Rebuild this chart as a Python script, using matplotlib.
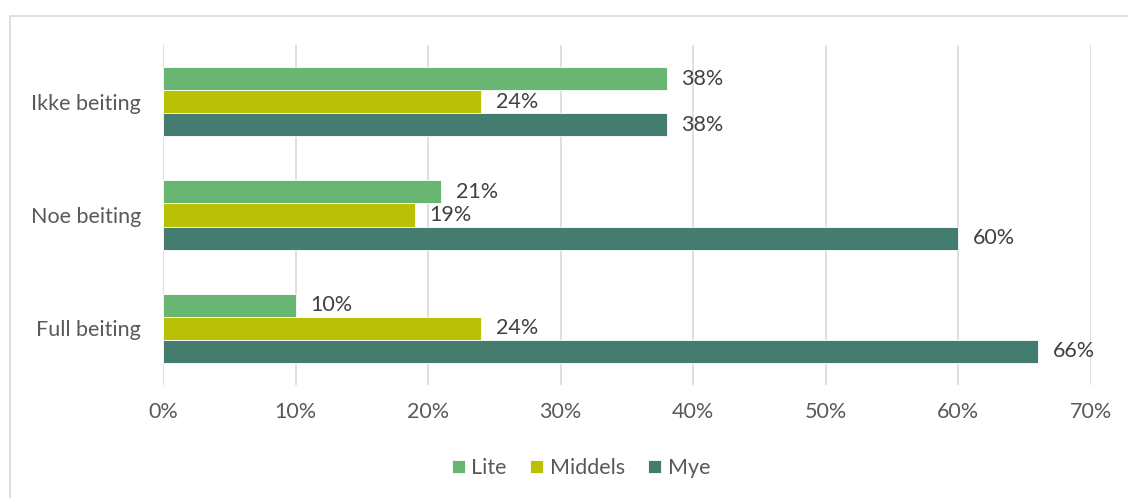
import matplotlib.pyplot as plt
import numpy as np
from matplotlib.patches import Rectangle

# data
categories = ["Full beiting", "Noe beiting", "Ikke beiting"]
series = ["Lite", "Middels", "Mye"]
lite = [10, 21, 38]
middels = [24, 19, 24]
mye = [66, 60, 38]
colors = ["#68B672", "#B8C106", "#447C70"]

plt.rcParams['font.family'] = ['Lato', 'DejaVu Sans']
txt = "#595959"

fig = plt.figure(figsize=(11.28, 4.98), dpi=100)
fig.patches.append(Rectangle((10 / 1128, -0.01), 1.02, 1 - 16 / 498 + 0.01,
                             transform=fig.transFigure, fill=False,
                             edgecolor="#D9D9D9", linewidth=1.2))
ax = fig.add_axes([163 / 1128, 1 - 385 / 498, (1091 - 163) / 1128, (385 - 45) / 498])

y = np.arange(len(categories))
h = 0.204
offsets = [h, 0, -h]
for vals, off, col, name in zip([lite, middels, mye], offsets, colors, series):
    bars = ax.barh(y + off, vals, height=h, color=col, edgecolor="white",
                   linewidth=0.6, label=name, zorder=3)
    for b, v in zip(bars, vals):
        ax.text(v + 1.1, b.get_y() + b.get_height() / 2, f"{v}%", va="center",
                ha="left", fontsize=15.5, color="#404040")

ax.set_xlim(0, 70)
ax.set_ylim(-0.5, 2.5)
ax.set_xticks(range(0, 71, 10))
ax.set_xticklabels([f"{t}%" for t in range(0, 71, 10)])
ax.set_yticks(y)
ax.set_yticklabels(categories)
ax.tick_params(length=0, labelsize=15.5, colors=txt)
ax.tick_params(axis='x', pad=12)
ax.tick_params(axis='y', pad=16)
ax.grid(axis='x', color="#D9D9D9", linewidth=1.2, zorder=0)
for s in ax.spines.values():
    s.set_visible(False)

ax.legend(loc="center", bbox_to_anchor=((581 - 163) / 928, -(468 - 385) / 340),
          ncol=3, frameon=False, fontsize=15.5, handlelength=0.6, handleheight=0.6,
          columnspacing=1.1, handletextpad=0.3, labelcolor=txt)

fig.savefig("out.png", dpi=100)
